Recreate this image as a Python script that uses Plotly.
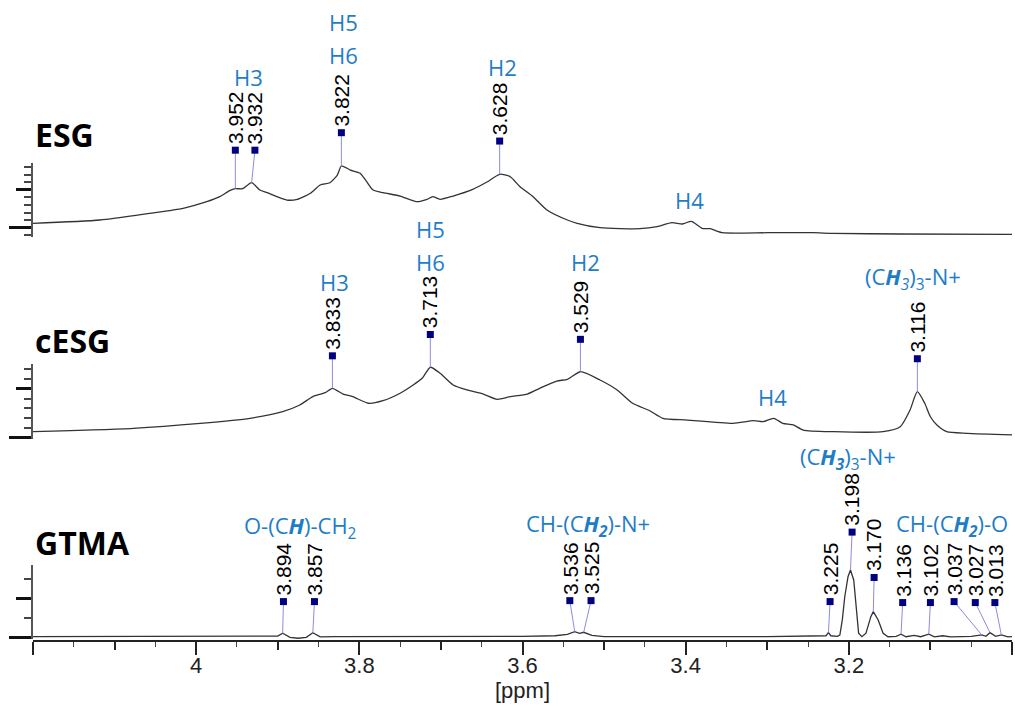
import numpy as np
import plotly.graph_objects as go

# ---------------- data ----------------
# ESG spectrum
esg_ppm = [4.200, 4.118, 4.057, 4.016, 3.987, 3.971, 3.959, 3.952, 3.943, 3.932, 3.922, 3.913,
           3.901, 3.889, 3.876, 3.860, 3.848, 3.836, 3.827, 3.822, 3.811, 3.799, 3.791, 3.783,
           3.771, 3.750, 3.729, 3.717, 3.710, 3.701, 3.685, 3.661, 3.643, 3.628, 3.615, 3.603,
           3.587, 3.570, 3.545, 3.533, 3.505, 3.456, 3.435, 3.417, 3.404, 3.393, 3.380, 3.370,
           3.355, 3.300, 3.244, 3.219, 3.137, 3.000]
esg_int = [0.58, 1.01, 1.89, 2.55, 3.42, 4.08, 4.87, 5.13, 5.13, 5.92, 4.96, 4.61,
           4.08, 3.64, 3.74, 4.53, 5.62, 5.92, 6.93, 8.12, 7.59, 7.16, 6.05, 4.96,
           4.61, 4.17, 3.42, 3.74, 4.08, 3.74, 4.17, 5.05, 6.05, 7.03, 6.71, 5.39,
           4.08, 2.33, 1.01, 0.58, 0.00, -0.13, 0.13, 0.66, 0.49, 0.84, -0.08, -0.13,
           -0.66, -0.66, -0.66, -0.74, -0.83, -0.87]

# cESG spectrum
cesg_ppm = [4.200, 4.077, 3.995, 3.934, 3.894, 3.873, 3.857, 3.842, 3.833, 3.820, 3.808, 3.789,
            3.771, 3.750, 3.734, 3.723, 3.713, 3.701, 3.685, 3.668, 3.648, 3.631, 3.615, 3.594,
            3.579, 3.558, 3.545, 3.529, 3.505, 3.484, 3.465, 3.444, 3.428, 3.398, 3.342, 3.317,
            3.305, 3.292, 3.281, 3.268, 3.256, 3.219, 3.158, 3.137, 3.125, 3.116, 3.107, 3.100,
            3.092, 3.080, 3.055, 3.000]
cesg_int = [0.58, 0.93, 1.44, 1.96, 2.64, 3.33, 4.19, 4.60, 5.05, 4.46, 4.19, 3.51,
            3.77, 4.54, 5.39, 6.08, 7.22, 6.60, 5.39, 4.88, 4.46, 3.92, 4.19, 4.46,
            5.05, 5.80, 5.98, 6.76, 5.91, 4.88, 3.51, 2.74, 1.96, 1.78, 1.44, 1.71,
            1.61, 1.96, 1.44, 1.27, 0.75, 0.58, 0.58, 1.09, 2.81, 4.70, 3.51, 2.12,
            1.27, 0.58, 0.41, 0.24]

# GTMA spectrum
gtma_ppm = [4.200, 4.000, 3.910, 3.900, 3.894, 3.885, 3.875, 3.865, 3.857, 3.848, 3.830, 3.700,
            3.600, 3.560, 3.545, 3.536, 3.530, 3.525, 3.515, 3.500, 3.450, 3.400, 3.350, 3.300,
            3.240, 3.228, 3.225, 3.222, 3.214, 3.211, 3.208, 3.205, 3.201, 3.198, 3.194, 3.191,
            3.188, 3.184, 3.179, 3.173, 3.170, 3.164, 3.158, 3.152, 3.142, 3.136, 3.130, 3.120,
            3.112, 3.102, 3.095, 3.085, 3.075, 3.050, 3.037, 3.032, 3.027, 3.020, 3.013, 3.005,
            3.000]
gtma_int = [0.03, 0.03, 0.03, 0.06, 0.21, 0.00, -0.05, 0.00, 0.24, 0.02, 0.03, 0.03,
            0.05, 0.08, 0.15, 0.29, 0.20, 0.26, 0.10, 0.04, 0.05, 0.06, 0.04, 0.03,
            0.04, 0.08, 0.24, 0.08, 0.05, 0.12, 0.90, 2.10, 3.14, 3.49, 2.97, 1.59,
            0.21, 0.03, 0.21, 1.07, 1.33, 0.90, 0.21, 0.03, 0.05, 0.16, 0.03, 0.10,
            0.03, 0.16, 0.02, 0.08, 0.02, 0.05, 0.12, 0.05, 0.24, 0.05, 0.12, 0.02,
            0.03]

# peak picks: label text (= true peak position), label column position, pick level
esg_picks = ["3.952", "3.932", "3.822", "3.628"]
esg_pick_x = [3.952, 3.928, 3.822, 3.628]
esg_pick_lvl = [10.2, 10.2, 12.5, 11.4]

cesg_picks = ["3.833", "3.713", "3.529", "3.116"]
cesg_pick_x = [3.833, 3.713, 3.529, 3.116]
cesg_pick_lvl = [8.4, 10.6, 10.1, 8.1]

gtma_picks = ["3.894", "3.857", "3.536", "3.525", "3.225", "3.198", "3.170",
              "3.136", "3.102", "3.037", "3.027", "3.013"]
gtma_pick_x = [3.893, 3.855, 3.542, 3.516, 3.223, 3.196, 3.169, 3.134, 3.100,
               3.071, 3.045, 3.021]
gtma_pick_lvl = [1.85, 1.85, 1.9, 1.9, 1.85, 5.45, 3.1, 1.8, 1.8, 1.85, 1.8, 1.8]

# assignments: text, x (ppm), y (intensity units of the panel), extra pixel lift
esg_assign = [("H3", 3.936, 19.8, 0), ("H5", 3.820, 27.1, 0), ("H6", 3.820, 22.7, 0),
              ("H2", 3.625, 21.1, 0), ("H4", 3.395, 3.6, 0)]
cesg_assign = [("H3", 3.831, 16.0, 0), ("H5", 3.713, 18.1, 33), ("H6", 3.713, 18.1, 0),
               ("H2", 3.523, 18.1, 0), ("H4", 3.294, 4.15, 0),
               ("(C<b><i>H</i></b><sub><i>3</i></sub>)<sub>3</sub>-N+", 3.121, 16.4, 0)]
gtma_assign = [("O-(C<b><i>H</i></b>)-CH<sub>2</sub>", 3.873, 5.7, 0),
               ("CH-(C<b><i>H<sub>2</sub></i></b>)-N+", 3.520, 5.8, 0),
               ("(C<b><i>H<sub>3</sub></i></b>)<sub>3</sub>-N+", 3.201, 9.3, 0),
               ("CH-(C<b><i>H<sub>2</sub></i></b>)-O", 3.074, 5.8, 0)]

panel_names = ["ESG", "cESG", "GTMA"]
panel_name_y = [12.3, 10.0, 4.9]

x_major = [4.2, 4.0, 3.8, 3.6, 3.4, 3.2, 3.0]
x_major_text = ["", "4", "3.8", "3.6", "3.4", "3.2", ""]
x_mid = [4.1, 3.9, 3.7, 3.5, 3.3, 3.1]

# ---------------- styling / layout ----------------
W, H = 1015, 710
XL, XR = 33, 1012
BLUE = "#1E7DC8"
NUMFONT = dict(family="Liberation Sans, Arial", size=21, color="black")
LABFONT = dict(family="Open Sans", size=22, color=BLUE)

def py(p):
    return 1 - p / H

# per panel: band (top px, bottom px), zero px, px per unit, decoration axis (top px, bottom px),
# mid tick value, minor tick values
panels = [
    dict(band=(0, 250), zero=227.7, unit=7.6, deco=(162.7, 237.0), mid=5,
         minor=[-1, 1, 2, 3, 4, 6, 7, 8]),
    dict(band=(250, 450), zero=437.3, unit=9.7, deco=(364.0, 439.0), mid=5,
         minor=[1, 2, 3, 4, 6, 7]),
    dict(band=(450, 640), zero=637.3, unit=19.3, deco=(565.0, 639.0), mid=2,
         minor=[1, 3]),
]

spectra = [(esg_ppm, esg_int), (cesg_ppm, cesg_int), (gtma_ppm, gtma_int)]
picks = [(esg_picks, esg_pick_x, esg_pick_lvl),
         (cesg_picks, cesg_pick_x, cesg_pick_lvl),
         (gtma_picks, gtma_pick_x, gtma_pick_lvl)]
assigns = [esg_assign, cesg_assign, gtma_assign]

fig = go.Figure()
layout = dict(width=W, height=H, margin=dict(l=0, r=0, t=0, b=0),
              paper_bgcolor="white", plot_bgcolor="rgba(0,0,0,0)", showlegend=False)
annotations = []

for i, pn in enumerate(panels):
    yname = "y" if i == 0 else f"y{i + 1}"
    ykey = "yaxis" if i == 0 else f"yaxis{i + 1}"
    dname = f"y{i + 4}"
    dkey = f"yaxis{i + 4}"
    top, bot = pn["band"]
    r0 = -(bot - pn["zero"]) / pn["unit"]
    r1 = (pn["zero"] - top) / pn["unit"]
    layout[ykey] = dict(domain=[py(bot), py(top)], range=[r0, r1], anchor="x",
                        showline=False, showgrid=False, zeroline=False,
                        tickvals=[0], ticks="outside", ticklen=23, tickwidth=2.5,
                        tickcolor="#111", showticklabels=False, fixedrange=True)
    dt, db = pn["deco"]
    layout[dkey] = dict(domain=[py(db), py(dt)],
                        range=[-(db - pn["zero"]) / pn["unit"], (pn["zero"] - dt) / pn["unit"]],
                        anchor="x", showline=True, linecolor="#555", linewidth=1.5,
                        showgrid=False, zeroline=False, tickvals=[pn["mid"]],
                        ticks="outside", ticklen=15, tickwidth=2.5, tickcolor="#111",
                        showticklabels=False, fixedrange=True,
                        minor=dict(tickvals=pn["minor"], ticks="outside", ticklen=7,
                                   tickwidth=1.5, tickcolor="#444"))
    fig.add_trace(go.Scatter(x=[None], y=[None], xaxis="x", yaxis=dname,
                             mode="lines", hoverinfo="skip"))

    sx, sy = spectra[i]
    fig.add_trace(go.Scatter(x=sx, y=sy, xaxis="x", yaxis=yname, mode="lines",
                             line=dict(color="#333333", width=1.3,
                                       shape="linear" if i == 2 else "spline",
                                       smoothing=0.6),
                             hoverinfo="skip"))

    labels, px_, lvl = picks[i]
    peak_x = [float(t) for t in labels]
    peak_y = list(np.interp(peak_x[::-1], sx[::-1], sy[::-1])[::-1])
    lx, ly = [], []
    for a, b, c, d in zip(px_, lvl, peak_x, peak_y):
        lx += [a, c, None]
        ly += [b, d, None]
    fig.add_trace(go.Scatter(x=lx, y=ly, xaxis="x", yaxis=yname, mode="lines",
                             line=dict(color="#8c8ce0", width=1), hoverinfo="skip"))
    fig.add_trace(go.Scatter(x=px_, y=lvl, xaxis="x", yaxis=yname, mode="markers",
                             marker=dict(symbol="square", size=7, color="#000080"),
                             cliponaxis=False, hoverinfo="skip"))
    for t, a, b in zip(labels, px_, lvl):
        annotations.append(dict(text=t, x=a, y=b, xref="x", yref=yname, textangle=-90,
                                showarrow=False, xanchor="center", yanchor="bottom",
                                yshift=4, font=NUMFONT))
    for t, a, b, s in assigns[i]:
        annotations.append(dict(text=t, x=a, y=b, xref="x", yref=yname, showarrow=False,
                                xanchor="center", yanchor="middle", yshift=s, font=LABFONT))
    annotations.append(dict(text=f"<b>{panel_names[i]}</b>", x=XL / W, xref="paper",
                            y=panel_name_y[i], yref=yname, xanchor="left", yanchor="middle",
                            showarrow=False,
                            font=dict(family="Open Sans", size=32, color="black")))

layout["xaxis"] = dict(domain=[XL / W, XR / W], range=[4.2, 3.0], anchor="y3",
                       showline=True, linecolor="#222", linewidth=1.5, showgrid=False,
                       zeroline=False, tickvals=x_major, ticktext=x_major_text,
                       ticks="outside", ticklen=13, tickwidth=1.8, tickcolor="#222",
                       ticklabelstandoff=-8,
                       tickfont=dict(family="Liberation Sans, Arial", size=22, color="#222"),
                       minor=dict(dtick=0.05, tick0=3.0, ticks="outside", ticklen=5,
                                  tickwidth=1.2, tickcolor="#444"),
                       title=dict(text="[ppm]", standoff=0,
                                  font=dict(family="Liberation Sans, Arial", size=22,
                                            color="#222")),
                       fixedrange=True)
layout["xaxis2"] = dict(overlaying="x", anchor="y3", range=[4.2, 3.0], showline=False,
                        showgrid=False, zeroline=False, tickvals=x_mid, ticks="outside",
                        ticklen=9, tickwidth=1.5, tickcolor="#222", showticklabels=False,
                        side="bottom", fixedrange=True)
fig.add_trace(go.Scatter(x=[None], y=[None], xaxis="x2", yaxis="y3", mode="lines",
                         hoverinfo="skip"))

layout["annotations"] = annotations
fig.update_layout(**layout)
fig.write_html("out.html", config={"displayModeBar": False},
               post_script="document.body.style.margin='0';")
